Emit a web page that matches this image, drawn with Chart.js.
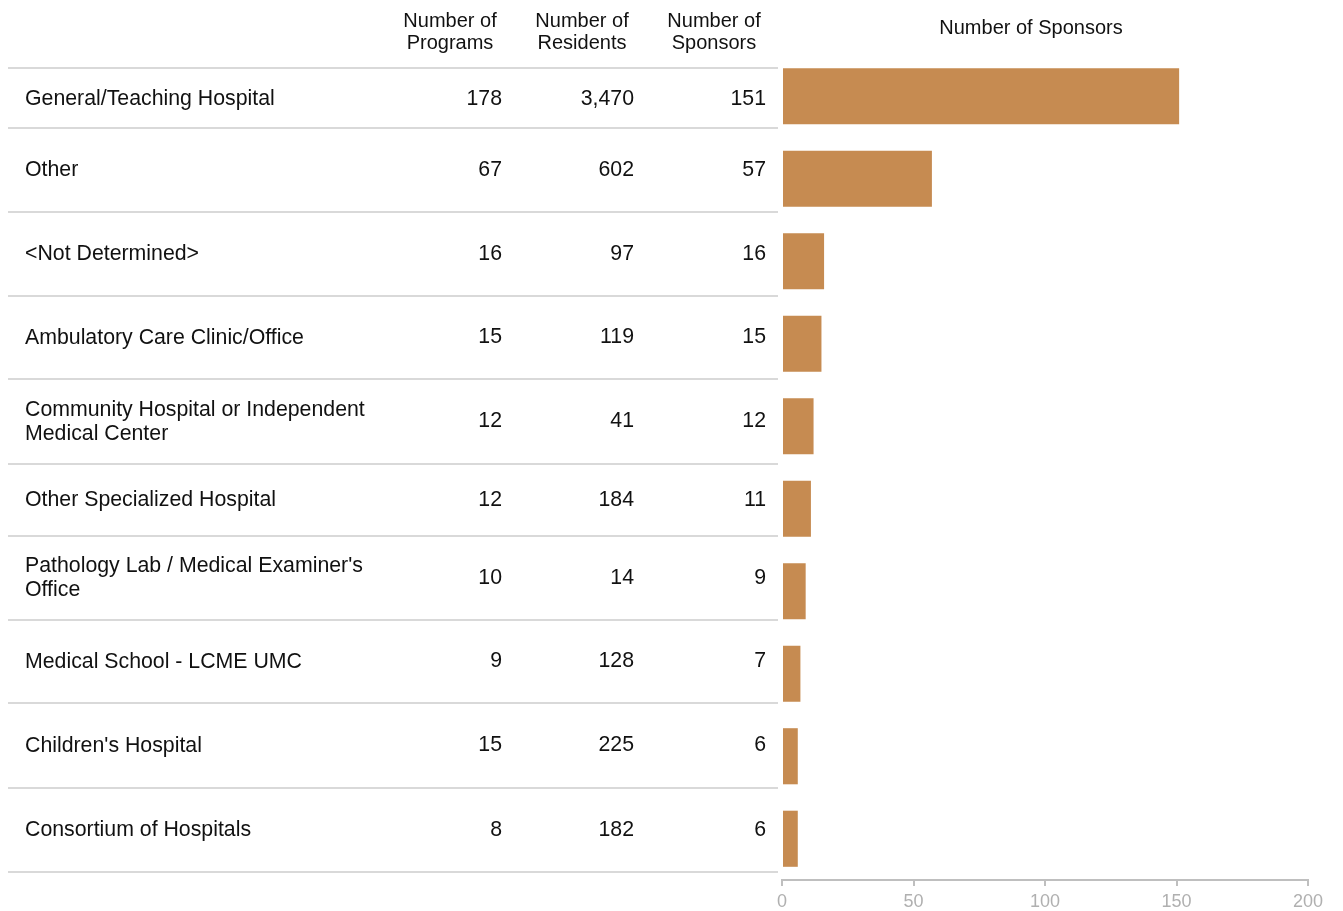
<!DOCTYPE html>
<html>
<head>
<meta charset="utf-8">
<script src="https://cdn.jsdelivr.net/npm/chart.js@4.4.1/dist/chart.umd.min.js"></script>
<style>
  body { margin: 0; background: #fff; font-family: "Liberation Sans", Arial, sans-serif; }
  #wrap { position: relative; width: 1343px; height: 911px; }
  #myChart { position: absolute; left: 0; top: 0; }
  .hdr { position: absolute; font-size: 20px; line-height: 22px; color: #111; text-align: center; }
  .row { position: absolute; left: 8px; width: 770px; border-bottom: 2px solid #d9d9d9; display: flex; align-items: center; font-size: 21.3px; color: #111; }
  .row.first { border-top: 2px solid #d9d9d9; }
  .lab { position: absolute; left: 17px; width: 350px; line-height: 24px; }
  .num { position: absolute; text-align: right; width: 100px; }
</style>
</head>
<body>
<div id="wrap">
  <canvas id="myChart" width="1343" height="911"></canvas>
</div>
<script>
// データ
const categories = ['General/Teaching Hospital', 'Other', '<Not Determined>', 'Ambulatory Care Clinic/Office',
  'Community Hospital or Independent Medical Center', 'Other Specialized Hospital',
  "Pathology Lab / Medical Examiner's Office", 'Medical School - LCME UMC', "Children's Hospital", 'Consortium of Hospitals'];
const programs = [178, 67, 16, 15, 12, 12, 10, 9, 15, 8];
const residents = [3470, 602, 97, 119, 41, 184, 14, 128, 225, 182];
const sponsors = [151, 57, 16, 15, 12, 11, 9, 7, 6, 6];
const xTicks = [0, 50, 100, 150, 200];

// 表の行の境界 (見た目合わせ)
const rowLines = [67, 127, 211, 295, 378, 463, 535, 619, 702, 787, 871];

const wrap = document.getElementById('wrap');

function addHdr(text, cx, top, w) {
  const d = document.createElement('div');
  d.className = 'hdr';
  d.style.left = (cx - w / 2) + 'px';
  d.style.top = top + 'px';
  d.style.width = w + 'px';
  d.innerHTML = text;
  wrap.appendChild(d);
}
addHdr('Number of<br>Programs', 450, 9, 130);
addHdr('Number of<br>Residents', 582, 9, 130);
addHdr('Number of<br>Sponsors', 714, 9, 130);
addHdr('Number of Sponsors', 1031, 16, 300);

categories.forEach((c, i) => {
  const r = document.createElement('div');
  r.className = 'row' + (i === 0 ? ' first' : '');
  const top = rowLines[i];
  r.style.top = top + 'px';
  r.style.height = (rowLines[i + 1] - top - (i === 0 ? 2 : 0)) + 'px';
  const lab = document.createElement('div');
  lab.className = 'lab';
  lab.textContent = c;
  r.appendChild(lab);
  [[programs[i], 394], [residents[i].toLocaleString('en-US'), 526], [sponsors[i], 658]].forEach(([v, x]) => {
    const n = document.createElement('div');
    n.className = 'num';
    n.style.left = x + 'px';
    n.textContent = v;
    r.appendChild(n);
  });
  wrap.appendChild(r);
});

const ctx = document.getElementById('myChart');
new Chart(ctx, {
  type: 'bar',
  data: {
    labels: categories,
    datasets: [{
      label: 'Number of Sponsors',
      data: sponsors,
      backgroundColor: '#C68B51',
      categoryPercentage: 1,
      barPercentage: 0.68
    }]
  },
  options: {
    indexAxis: 'y',
    responsive: false,
    animation: false,
    layout: { padding: { left: 782, right: 35, top: 55, bottom: 0 } },
    plugins: { legend: { display: false }, tooltip: { enabled: false } },
    scales: {
      y: { display: false },
      x: {
        min: 0,
        max: 200,
        afterBuildTicks: (s) => { s.ticks = xTicks.map(v => ({ value: v })); },
        afterFit: (s) => { s.height = 31; },
        grid: { drawOnChartArea: false, drawTicks: true, tickLength: 6, color: '#bfbfbf', lineWidth: 2 },
        border: { display: true, color: '#bfbfbf', width: 2 },
        ticks: { color: '#b0b0b0', padding: 5, font: { family: '"Liberation Sans", Arial, sans-serif', size: 18 } }
      }
    }
  }
});
</script>
</body>
</html>
